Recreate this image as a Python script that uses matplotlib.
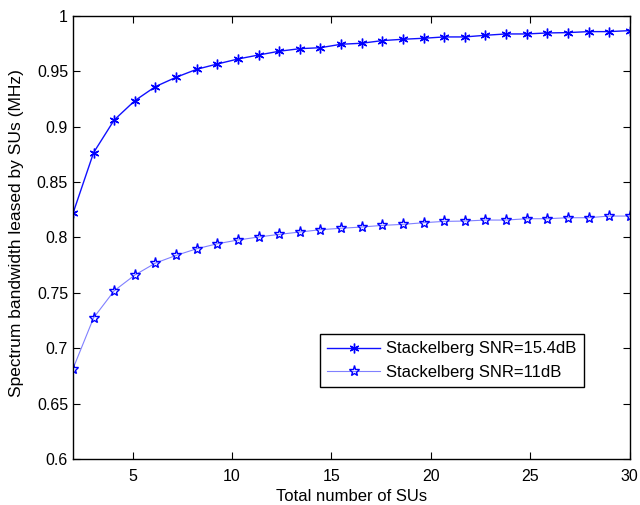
import numpy as np
import matplotlib
matplotlib.use('Agg')
import matplotlib.pyplot as plt

plt.rcParams['font.family'] = ['Liberation Sans', 'DejaVu Sans']
plt.rcParams['font.size'] = 12

# 28 puntos equiespaciados entre 2 y 30 SUs
n_sus = np.linspace(2, 30, 28)

snr_15 = [0.8216, 0.8764, 0.9059, 0.9233, 0.9360, 0.9444, 0.9516, 0.9564,
          0.9609, 0.9645, 0.9679, 0.9702, 0.9711, 0.9742, 0.9751, 0.9775,
          0.9787, 0.9796, 0.9808, 0.9808, 0.9823, 0.9835, 0.9835, 0.9844,
          0.9847, 0.9856, 0.9856, 0.9865]

snr_11 = [0.6814, 0.7274, 0.7518, 0.7660, 0.7768, 0.7837, 0.7897, 0.7942,
          0.7976, 0.8003, 0.8027, 0.8048, 0.8069, 0.8082, 0.8093, 0.8108,
          0.8117, 0.8132, 0.8144, 0.8147, 0.8156, 0.8156, 0.8168, 0.8168,
          0.8177, 0.8177, 0.8192, 0.8192]

labels = ['Stackelberg SNR=15.4dB', 'Stackelberg SNR=11dB']

xticks = [5, 10, 15, 20, 25, 30]
yticks = [0.6, 0.65, 0.7, 0.75, 0.8, 0.85, 0.9, 0.95, 1.0]
ytick_labels = ['0.6', '0.65', '0.7', '0.75', '0.8', '0.85', '0.9', '0.95', '1']

fig = plt.figure(figsize=(6.4, 5.05), dpi=100)
ax = fig.add_axes([0.114, 0.091, 0.87, 0.878])

ax.plot(n_sus, snr_15, color='#1010ff', lw=1.0, marker=(6, 2, 0),
        markersize=7, markeredgecolor='#0000ff', markeredgewidth=1.0,
        label=labels[0])
ax.plot(n_sus, snr_11, color='#8080ff', lw=0.8, marker='*',
        markersize=8, markerfacecolor='none', markeredgecolor='#0000ff',
        markeredgewidth=1.0, label=labels[1])

ax.set_xlim(2, 30)
ax.set_ylim(0.6, 1.0)
ax.set_xticks(xticks)
ax.set_yticks(yticks)
ax.set_yticklabels(ytick_labels)
ax.tick_params(direction='in', top=True, right=True, length=5, width=0.8,
               labelsize=11.5)
ax.tick_params(axis='x', pad=7)
for s in ax.spines.values():
    s.set_linewidth(1.0)

ax.set_xlabel('Total number of SUs', labelpad=4)
ax.set_ylabel('Spectrum bandwidth leased by SUs (MHz)', fontsize=12.5)
ax.yaxis.set_label_coords(-0.088, 0.51)

leg = ax.legend(loc='lower right', bbox_to_anchor=(0.918, 0.162),
                fancybox=False, framealpha=1, edgecolor='black',
                borderpad=0.45, handlelength=3.2, labelspacing=0.5,
                handletextpad=0.35, borderaxespad=0)
leg.get_frame().set_linewidth(1.0)

plt.savefig('out.png', dpi=100, facecolor='white')
